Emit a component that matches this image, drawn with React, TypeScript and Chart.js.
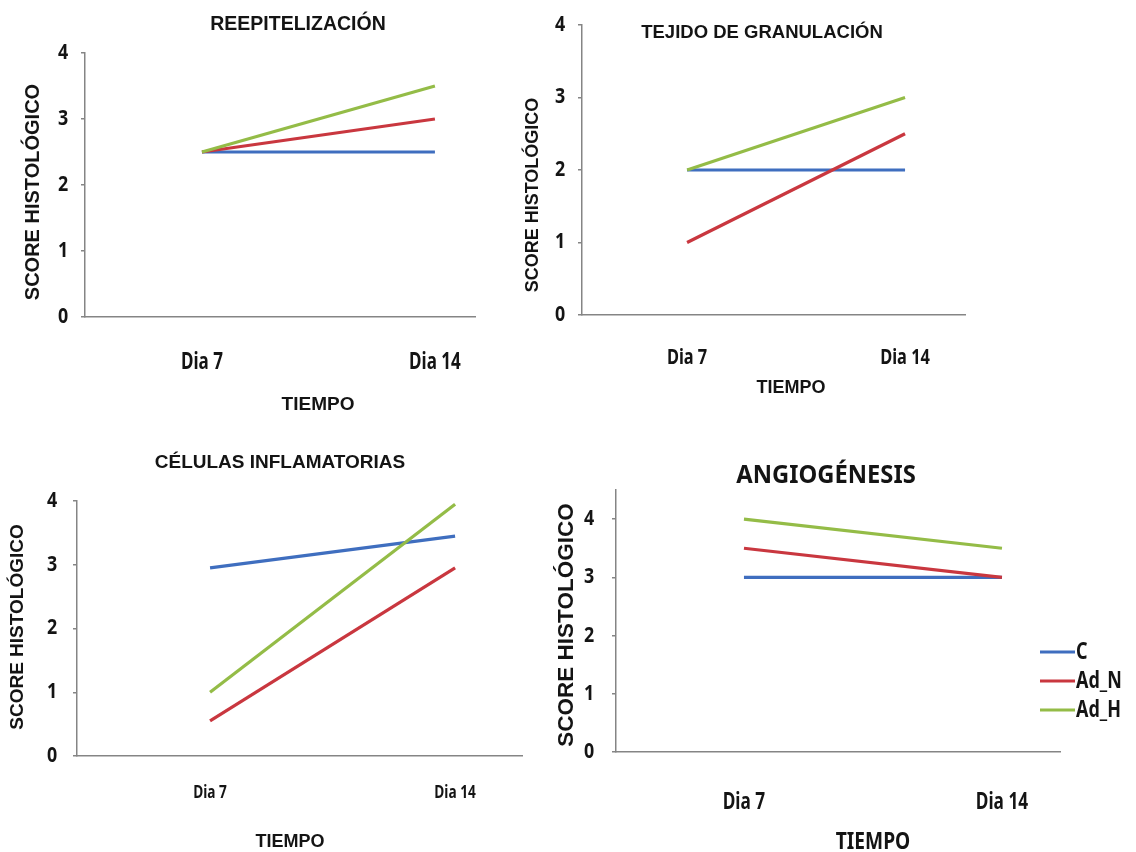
import React, { useEffect, useRef } from 'react';
import { Chart, registerables } from 'chart.js';

Chart.register(...registerables);

// ---------- data ----------
const SERIES_NAMES = ['C', 'Ad_N', 'Ad_H'];
const SERIES_COLORS = ['#3F6EBF', '#C9373F', '#94BC47'];
const DAY_LABELS = ['Dia 7', 'Dia 14'];
const DAY_INDEX = [0, 1];

const TITLES = ['REEPITELIZACIÓN', 'TEJIDO DE GRANULACIÓN', 'CÉLULAS INFLAMATORIAS', 'ANGIOGÉNESIS'];
const X_TITLE = 'TIEMPO';
const Y_TITLE = 'SCORE HISTOLÓGICO';

const reepC = [2.5, 2.5];
const reepAdN = [2.5, 3.0];
const reepAdH = [2.5, 3.5];

const granC = [2.0, 2.0];
const granAdN = [1.0, 2.5];
const granAdH = [2.0, 3.0];

const inflC = [2.95, 3.45];
const inflAdN = [0.55, 2.95];
const inflAdH = [1.0, 3.95];

const angioC = [3.0, 3.0];
const angioAdN = [3.5, 3.0];
const angioAdH = [4.0, 3.5];

// ---------- styling / layout ----------
const ARIAL = '"Liberation Sans", Arial, sans-serif';
const CALI = '"Noto Sans", "DejaVu Sans Condensed", sans-serif';
const AXIS_COLOR = '#858585';
const TEXT_COLOR = '#141414';
const W = 1136;
const H = 852;
const Y_SCALE_W = 40;
const X_SCALE_H = 60;

const PANELS = [
  {
    series: [reepC, reepAdN, reepAdH],
    area: { left: 85, top: 53, right: 475, bottom: 317 },
    xMin: -0.502, xMax: 1.172, yMax: 4,
    yTick: { size: 21, sx: 0.85, dx: 22 },
    xTick: { size: 23, sx: 0.74, dy: 45 },
    texts: [
      { text: TITLES[0], x: 298, y: 25, size: 19.5, family: ARIAL, sx: 1 },
      { text: X_TITLE, x: 318, y: 405, size: 19, family: ARIAL, sx: 1 },
      { text: Y_TITLE, x: 33, y: 192, size: 20, family: ARIAL, sx: 1, rotate: true },
    ],
    legend: null,
  },
  {
    series: [granC, granAdN, granAdH],
    area: { left: 582, top: 25, right: 965, bottom: 315 },
    xMin: -0.482, xMax: 1.275, yMax: 4,
    yTick: { size: 21, sx: 0.85, dx: 22 },
    xTick: { size: 21, sx: 0.78, dy: 43 },
    texts: [
      { text: TITLES[1], x: 762, y: 33, size: 18.5, family: ARIAL, sx: 1 },
      { text: X_TITLE, x: 791, y: 388, size: 18, family: ARIAL, sx: 1 },
      { text: Y_TITLE, x: 533, y: 195, size: 18, family: ARIAL, sx: 1, rotate: true },
    ],
    legend: null,
  },
  {
    series: [inflC, inflAdN, inflAdH],
    area: { left: 77, top: 501, right: 522, bottom: 756 },
    xMin: -0.543, xMax: 1.273, yMax: 4,
    yTick: { size: 21, sx: 0.85, dx: 25 },
    xTick: { size: 18, sx: 0.76, dy: 37 },
    texts: [
      { text: TITLES[2], x: 280, y: 463, size: 19, family: ARIAL, sx: 1 },
      { text: X_TITLE, x: 290, y: 842, size: 18, family: ARIAL, sx: 1 },
      { text: Y_TITLE, x: 18, y: 627, size: 19, family: ARIAL, sx: 1, rotate: true },
    ],
    legend: null,
  },
  {
    series: [angioC, angioAdN, angioAdH],
    area: { left: 616, top: 490, right: 1060, bottom: 752 },
    xMin: -0.496, xMax: 1.225, yMax: 4.5,
    yTick: { size: 21, sx: 0.85, dx: 27 },
    xTick: { size: 23, sx: 0.75, dy: 50 },
    texts: [
      { text: TITLES[3], x: 826, y: 476, size: 25, family: CALI, sx: 0.95 },
      { text: X_TITLE, x: 873, y: 842, size: 24, family: CALI, sx: 0.8 },
      { text: Y_TITLE, x: 567, y: 625, size: 22.5, family: ARIAL, sx: 1, rotate: true },
    ],
    legend: { x: 1040, y: 652, dy: 29, len: 35, size: 23, sx: 0.78, family: CALI },
  },
];

function drawText(ctx: CanvasRenderingContext2D, text: string, x: number, y: number, size: number, family: string, sx: number, rotate = false, align: CanvasTextAlign = 'center') {
  ctx.save();
  ctx.font = `bold ${size}px ${family}`;
  ctx.fillStyle = TEXT_COLOR;
  ctx.textAlign = align;
  ctx.textBaseline = 'middle';
  ctx.translate(x, y);
  if (rotate) ctx.rotate(-Math.PI / 2);
  ctx.scale(sx, 1);
  ctx.fillText(text, 0, 0);
  ctx.restore();
}

const panelText = {
  id: 'panelText',
  afterDraw(chart: any, _args: any, opts: any) {
    const ctx = chart.ctx;
    // tick labels, placed by the chart's own scales
    const xs = chart.scales.x;
    const ys = chart.scales.y;
    xs.ticks.forEach((t: any) => {
      const label = DAY_LABELS[DAY_INDEX.indexOf(Number(t.value))] ?? '';
      drawText(ctx, label, xs.getPixelForValue(t.value), xs.top + opts.xTick.dy, opts.xTick.size, CALI, opts.xTick.sx);
    });
    ys.ticks.forEach((t: any) => {
      drawText(ctx, String(t.value), ys.right - opts.yTick.dx, ys.getPixelForValue(t.value), opts.yTick.size, CALI, opts.yTick.sx);
    });
    (opts.items || []).forEach((t: any) => {
      drawText(ctx, t.text, t.x, t.y, t.size, t.family, t.sx, !!t.rotate);
    });
    const L = opts.legend;
    if (L) {
      chart.data.datasets.forEach((ds: any, i: number) => {
        const y = L.y + i * L.dy;
        ctx.save();
        ctx.strokeStyle = ds.borderColor;
        ctx.lineWidth = 3;
        ctx.beginPath();
        ctx.moveTo(L.x, y);
        ctx.lineTo(L.x + L.len, y);
        ctx.stroke();
        ctx.restore();
        drawText(ctx, ds.label, L.x + L.len + 1, y, L.size, L.family, L.sx, false, 'left');
      });
    }
  },
};

function Panel({ p }: { p: any }) {
  const ref = useRef<HTMLCanvasElement | null>(null);
  useEffect(() => {
    if (!ref.current) return;
    const datasets = p.series.map((vals: number[], i: number) => ({
      label: SERIES_NAMES[i],
      data: vals.map((v, j) => ({ x: DAY_INDEX[j], y: v })),
      borderColor: SERIES_COLORS[i],
      backgroundColor: SERIES_COLORS[i],
      borderWidth: 3.2,
      pointRadius: 0,
      tension: 0,
      order: 3 - i,
    }));
    const chart = new Chart(ref.current, {
      type: 'line',
      data: { datasets },
      plugins: [panelText],
      options: {
        animation: false,
        responsive: false,
        events: [],
        layout: {
          padding: {
            left: p.area.left - Y_SCALE_W,
            top: p.area.top,
            right: W - p.area.right,
            bottom: H - p.area.bottom - X_SCALE_H,
          },
        },
        plugins: {
          legend: { display: false },
          tooltip: { enabled: false },
          title: { display: false },
          panelText: { items: p.texts, legend: p.legend, xTick: p.xTick, yTick: p.yTick },
        } as any,
        scales: {
          x: {
            type: 'linear',
            min: p.xMin,
            max: p.xMax,
            afterFit: (s: any) => { s.height = X_SCALE_H; },
            afterBuildTicks: (s: any) => { s.ticks = DAY_INDEX.map((v) => ({ value: v })); },
            grid: { display: false, drawTicks: false },
            border: { display: true, color: AXIS_COLOR, width: 1.5 },
            ticks: { display: false },
          },
          y: {
            type: 'linear',
            min: 0,
            max: p.yMax,
            afterFit: (s: any) => { s.width = Y_SCALE_W; },
            grid: { display: true, drawOnChartArea: false, drawTicks: true, tickLength: 4, color: AXIS_COLOR, lineWidth: 1.5 },
            border: { display: true, color: AXIS_COLOR, width: 1.5 },
            ticks: { display: false, stepSize: 1, includeBounds: false },
          },
        },
      } as any,
    });
    return () => chart.destroy();
  }, [p]);
  return (
    <canvas
      ref={ref}
      width={W}
      height={H}
      style={{ position: 'absolute', left: 0, top: 0, width: W, height: H }}
    />
  );
}

export default function App() {
  return (
    <div style={{ position: 'fixed', left: 0, top: 0, width: W, height: H, background: '#ffffff' }}>
      {PANELS.map((p, i) => (
        <Panel key={i} p={p} />
      ))}
    </div>
  );
}
